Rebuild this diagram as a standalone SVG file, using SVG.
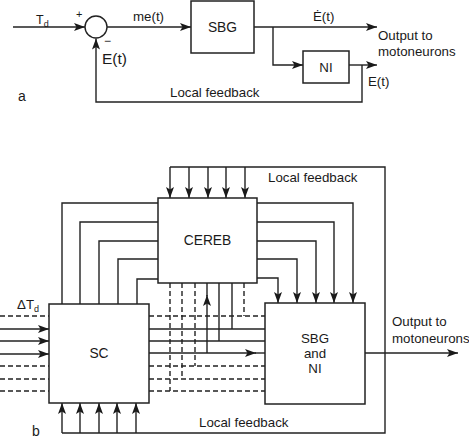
<svg xmlns="http://www.w3.org/2000/svg" width="469" height="439" viewBox="0 0 469 439">
<defs>
<marker id="ah" viewBox="0 0 11 8" refX="11" refY="4" markerWidth="11" markerHeight="8" markerUnits="userSpaceOnUse" orient="auto">
<path d="M0,0 L11,4 L0,8 L2.5,4 z" fill="#1a1a1a"/>
</marker>
<style>
.ln{fill:none;stroke:#222;stroke-width:1.4}
.ds{fill:none;stroke:#222;stroke-width:1.4;stroke-dasharray:5 3}
.ar{marker-end:url(#ah)}
.bx{fill:#fff;stroke:#222;stroke-width:1.5}
.t{font-family:"Liberation Sans",Arial,sans-serif;font-size:13.3px;fill:#1a1a1a}
.c{text-anchor:middle}
</style>
</defs>
<rect width="469" height="439" fill="#fff"/>

<g id="connectors">
<!-- part a -->
<path class="ln ar" d="M13,27 H85"/>
<path class="ln ar" d="M107,27 H191"/>
<path class="ln ar" d="M254,27 H377"/>
<path class="ln ar" d="M273,27 V65 H303"/>
<path class="ln ar" d="M349,65 H377"/>
<path class="ln ar" d="M362,65 V102 H96 V38.5"/>

<!-- part b: top/right/bottom local feedback loop -->
<path class="ln" d="M170,167 H385 V433 H62"/>
<path class="ln ar" d="M170,167 V198"/>
<path class="ln ar" d="M189,167 V198"/>
<path class="ln ar" d="M208,167 V198"/>
<path class="ln ar" d="M226,167 V198"/>
<path class="ln ar" d="M245,167 V198"/>
<path class="ln ar" d="M62,433 V403"/>
<path class="ln ar" d="M80,433 V403"/>
<path class="ln ar" d="M99,433 V403"/>
<path class="ln ar" d="M117,433 V403"/>
<path class="ln ar" d="M136,433 V403"/>

<!-- SC top to CEREB left -->
<path class="ln" d="M62,304 V203 H158"/>
<path class="ln" d="M80,304 V222 H158"/>
<path class="ln" d="M99,304 V241 H158"/>
<path class="ln" d="M118,304 V259 H158"/>
<path class="ln" d="M137,304 V279 H158"/>

<!-- CEREB right to SBG top -->
<path class="ln ar" d="M257,203 H353 V303"/>
<path class="ln ar" d="M257,222 H334 V303"/>
<path class="ln ar" d="M257,241 H316 V303"/>
<path class="ln ar" d="M257,259 H297 V303"/>
<path class="ln ar" d="M257,278 H278 V303"/>

<!-- left inputs to SC -->
<path class="ds" d="M0,316 H49"/>
<path class="ln ar" d="M0,329 H49"/>
<path class="ln ar" d="M0,341 H49"/>
<path class="ln ar" d="M0,354 H49"/>
<path class="ds" d="M0,366 H49"/>
<path class="ds" d="M0,379 H49"/>
<path class="ds" d="M0,391 H49"/>

<!-- SC right to SBG left -->
<path class="ds" d="M149,316 H265"/>
<path class="ln" d="M149,329 H265"/>
<path class="ln" d="M149,341 H265"/>
<path class="ln ar" d="M149,353 H256"/>
<path class="ln" d="M255,353 H265"/>
<path class="ds" d="M149,366 H265"/>
<path class="ds" d="M149,379 H265"/>
<path class="ds" d="M149,391 H265"/>

<!-- CEREB bottom verticals -->
<path class="ds" d="M170,283 V391"/>
<path class="ds" d="M182,283 V379"/>
<path class="ds" d="M195,283 V366"/>
<path class="ln ar" d="M207,353 V295"/>
<path class="ln" d="M207,296 V283"/>
<path class="ln" d="M219,283 V341"/>
<path class="ln" d="M232,283 V329"/>
<path class="ds" d="M244,283 V316"/>

<!-- SBG output -->
<path class="ln ar" d="M365,353 H458"/>
</g>

<g id="a_sum">
<circle cx="96" cy="27" r="11" fill="#fff" stroke="#222" stroke-width="1.4"/>
</g>
<g id="a_sbg">
<rect class="bx" x="191" y="1" width="63" height="52"/>
<text class="t c" x="222.5" y="32" style="font-size:13.8px">SBG</text>
</g>
<g id="a_ni">
<rect class="bx" x="303" y="51" width="46" height="32"/>
<text class="t c" x="326" y="72">NI</text>
</g>
<g id="b_cereb">
<rect class="bx" x="158" y="198" width="99" height="85"/>
<text class="t c" x="207.5" y="245" style="font-size:13.8px">CEREB</text>
</g>
<g id="b_sc">
<rect class="bx" x="49" y="304" width="100" height="99"/>
<text class="t c" x="99" y="358" style="font-size:13.8px">SC</text>
</g>
<g id="b_sbgni">
<rect class="bx" x="265" y="303" width="100" height="101"/>
<text class="t c" x="315" y="343">SBG</text>
<text class="t c" x="315" y="358">and</text>
<text class="t c" x="315" y="373">NI</text>
</g>

<g id="labels">
<text class="t" x="36" y="24" style="font-size:12.5px">T<tspan dy="3" style="font-size:9px">d</tspan></text>
<text class="t" x="76" y="18" style="font-size:11px">+</text>
<text class="t" x="104" y="45" style="font-size:12px">−</text>
<text class="t" x="133" y="21">me(t)</text>
<text class="t" x="313" y="21">Ė(t)</text>
<text class="t" x="378" y="40">Output to</text>
<text class="t" x="378" y="56">motoneurons</text>
<text class="t" x="368" y="86">E(t)</text>
<text class="t" x="102" y="64" style="font-size:15.5px">E(t)</text>
<text class="t" x="170" y="97">Local feedback</text>
<text class="t" x="18" y="101" style="font-size:14px">a</text>

<text class="t" x="268" y="182">Local feedback</text>
<text class="t" x="17" y="309">ΔT<tspan dy="3" style="font-size:9px">d</tspan></text>
<text class="t" x="392" y="326">Output to</text>
<text class="t" x="392" y="343">motoneurons</text>
<text class="t" x="199" y="427">Local feedback</text>
<text class="t" x="32" y="436" style="font-size:14px">b</text>
</g>
</svg>
